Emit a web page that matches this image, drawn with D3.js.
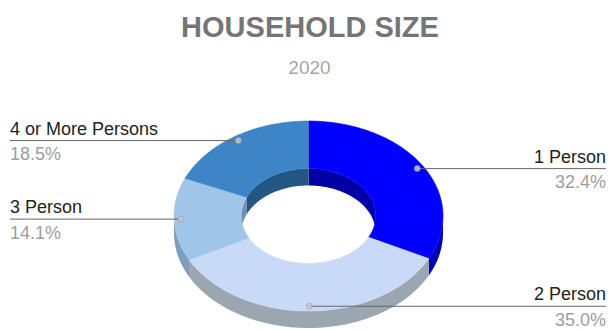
<!DOCTYPE html>
<html>
<head>
<meta charset="utf-8">
<script src="https://cdn.jsdelivr.net/npm/d3@7"></script>
<style>
  html, body { margin: 0; padding: 0; background: #ffffff; }
  svg { display: block; font-family: Arial, "Liberation Sans", sans-serif; }
</style>
</head>
<body>
<svg id="chart" width="608" height="330"></svg>
<script>
// Household size shares, 2020 (percent of households)
const categories = ["1 Person", "2 Person", "3 Person", "4 or More Persons"];
const shares = [32.4, 35.0, 14.1, 18.5];
const topColors = ["#0000ff", "#c9daf8", "#9fc5e8", "#3d85c6"];
const sideColors = ["#0000b4", "#9ba6b1", "#7e9dbb", "#2c6296"];
const innerColors = ["#0000a4", "#8e99a4", "#6f8fae", "#245683"];

const title = "HOUSEHOLD SIZE";
const subtitle = "2020";

const W = 608, H = 330;
const cx = 308.5, cy = 216;      // centre of the top face
const rx = 134.5, ry = 95;       // outer radii of the tilted ring
const holeRatio = 0.5;           // inner radius as a fraction of outer
const depth = 17;                // thickness of the ring

const svg = d3.select("#chart");

// Title block
svg.append("text")
  .attr("x", 310).attr("y", 37)
  .attr("text-anchor", "middle")
  .attr("font-size", 29).attr("font-weight", "bold")
  .attr("fill", "#757575")
  .text(title);

svg.append("text")
  .attr("x", 309.5).attr("y", 74)
  .attr("text-anchor", "middle")
  .attr("font-size", 19)
  .attr("fill", "#a6a6a6")
  .text(subtitle);

// Angles run clockwise from 12 o'clock
const pie = d3.pie().sort(null).value(d => d.v).startAngle(0).endAngle(2 * Math.PI);
const arcs = pie(categories.map((c, i) => ({ c, v: shares[i], i })));

function pt(a, r, dy) {
  return [cx + r * rx * Math.sin(a), cy - r * ry * Math.cos(a) + (dy || 0)];
}
function sample(a0, a1, r, dy) {
  const n = Math.max(2, Math.ceil(Math.abs(a1 - a0) / 0.02));
  return d3.range(n + 1).map(k => pt(a0 + (a1 - a0) * k / n, r, dy));
}
const line = d3.line().curve(d3.curveLinear);
const closed = pts => line(pts) + "Z";

function clip(a0, a1, lo, hi) {
  const s = Math.max(a0, lo), e = Math.min(a1, hi);
  return e > s ? [s, e] : null;
}

const g = svg.append("g");

// Outer walls on the near half of the ring
arcs.forEach(d => {
  const r = clip(d.startAngle, d.endAngle, Math.PI / 2, 3 * Math.PI / 2);
  if (!r) return;
  const pts = sample(r[0], r[1], 1, 0).concat(sample(r[1], r[0], 1, depth));
  g.append("path").attr("d", closed(pts)).attr("fill", sideColors[d.data.i]);
});

// Inner walls seen through the hole on the far half
arcs.forEach(d => {
  [[0, Math.PI / 2], [3 * Math.PI / 2, 2 * Math.PI]].forEach(([lo, hi]) => {
    const r = clip(d.startAngle, d.endAngle, lo, hi);
    if (!r) return;
    const pts = sample(r[0], r[1], holeRatio, 0).concat(sample(r[1], r[0], holeRatio, depth));
    g.append("path").attr("d", closed(pts)).attr("fill", innerColors[d.data.i]);
  });
});

// Top faces
arcs.forEach(d => {
  const pts = sample(d.startAngle, d.endAngle, 1, 0)
    .concat(sample(d.endAngle, d.startAngle, holeRatio, 0));
  g.append("path").attr("d", closed(pts))
    .attr("fill", topColors[d.data.i])
    .attr("stroke", topColors[d.data.i]).attr("stroke-width", 0.6);
});

// Leader lines and labels
const fmt = v => v.toFixed(1) + "%";
const labels = svg.append("g");
arcs.forEach(d => {
  const mid = (d.startAngle + d.endAngle) / 2;
  const [px, py] = pt(mid, 0.95, 0);
  const left = Math.sin(mid) < 0;
  const ex = left ? 10 : 606;
  labels.append("line")
    .attr("x1", ex).attr("y1", py).attr("x2", px).attr("y2", py)
    .attr("stroke", "#666666").attr("stroke-width", 1);
  labels.append("circle")
    .attr("cx", px).attr("cy", py).attr("r", 3)
    .attr("fill", "#c4c8d6").attr("fill-opacity", 0.85)
    .attr("stroke", "#9a9a9a").attr("stroke-width", 0.6);
  labels.append("text")
    .attr("x", ex).attr("y", py - 6)
    .attr("text-anchor", left ? "start" : "end")
    .attr("font-size", 18).attr("fill", "#222222")
    .text(d.data.c);
  labels.append("text")
    .attr("x", ex).attr("y", py + 19.5)
    .attr("text-anchor", left ? "start" : "end")
    .attr("font-size", 18).attr("fill", "#9e9e9e")
    .text(fmt(d.data.v));
});
</script>
</body>
</html>
